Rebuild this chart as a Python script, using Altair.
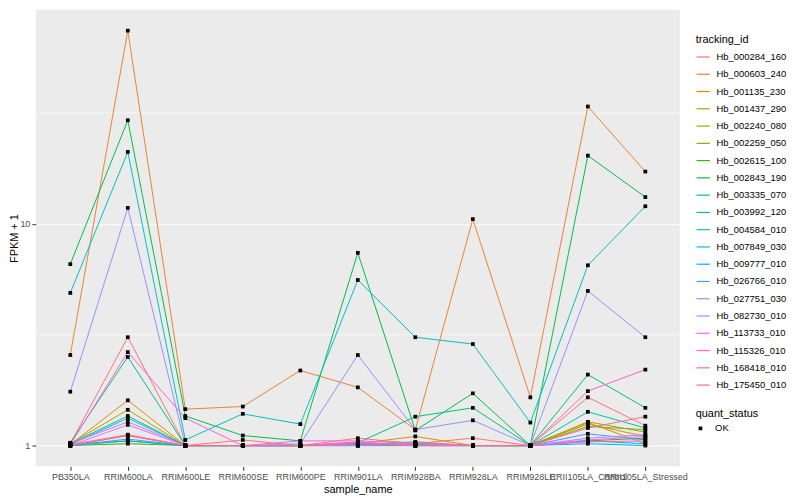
import altair as alt
import pandas as pd

samples = ["PB350LA", "RRIM600LA", "RRIM600LE", "RRIM600SE", "RRIM600PE", "RRIM901LA",
           "RRIM928BA", "RRIM928LA", "RRIM928LE", "RRII105LA_Control", "RRII105LA_Stressed"]

tracking_ids = ["Hb_000284_160", "Hb_000603_240", "Hb_001135_230", "Hb_001437_290", "Hb_002240_080",
                "Hb_002259_050", "Hb_002615_100", "Hb_002843_190", "Hb_003335_070", "Hb_003992_120",
                "Hb_004584_010", "Hb_007849_030", "Hb_009777_010", "Hb_026766_010", "Hb_027751_030",
                "Hb_082730_010", "Hb_113733_010", "Hb_115326_010", "Hb_168418_010", "Hb_175450_010"]

hue_colors = ["#F8766D", "#EA8331", "#D89000", "#C09B00", "#A3A500", "#7CAE00", "#39B600", "#00BB4E",
              "#00BF7D", "#00C1A3", "#00BFC4", "#00BAE0", "#00B0F6", "#35A2FF", "#9590FF", "#C77CFF",
              "#E76BF3", "#FA62DB", "#FF62BC", "#FF6C91"]

# FPKM + 1 per sample (same order as `samples`)
hb_000284_160 = [1.02, 3.08, 1.00, 1.06, 1.00, 1.08, 1.02, 1.08, 1.00, 1.65, 1.23]
hb_000603_240 = [2.56, 74.3, 1.46, 1.50, 2.18, 1.83, 1.18, 10.5, 1.65, 33.8, 17.2]
hb_001135_230 = [1.01, 1.60, 1.00, 1.00, 1.00, 1.02, 1.10, 1.00, 1.00, 1.27, 1.02]
hb_001437_290 = [1.02, 1.45, 1.00, 1.00, 1.00, 1.01, 1.04, 1.00, 1.00, 1.25, 1.10]
hb_002240_080 = [1.00, 1.11, 1.00, 1.00, 1.00, 1.00, 1.02, 1.00, 1.00, 1.28, 1.15]
hb_002259_050 = [1.01, 1.05, 1.00, 1.00, 1.00, 1.02, 1.01, 1.00, 1.00, 1.22, 1.18]
hb_002615_100 = [1.00, 1.02, 1.00, 1.00, 1.00, 1.00, 1.00, 1.00, 1.00, 1.05, 1.08]
hb_002843_190 = [6.58, 29.3, 1.36, 1.11, 1.05, 7.40, 1.17, 1.72, 1.00, 20.3, 13.2]
hb_003335_070 = [1.03, 2.51, 1.00, 1.00, 1.00, 1.03, 1.35, 1.48, 1.00, 2.09, 1.48]
hb_003992_120 = [1.02, 1.36, 1.00, 1.00, 1.00, 1.02, 1.03, 1.00, 1.00, 1.42, 1.20]
hb_004584_010 = [4.88, 21.1, 1.06, 1.39, 1.25, 5.58, 3.08, 2.87, 1.27, 6.50, 12.0]
hb_007849_030 = [1.01, 1.33, 1.00, 1.00, 1.00, 1.01, 1.01, 1.00, 1.00, 1.05, 1.02]
hb_009777_010 = [1.00, 1.05, 1.00, 1.00, 1.00, 1.00, 1.00, 1.00, 1.00, 1.02, 1.00]
hb_026766_010 = [1.00, 1.07, 1.00, 1.00, 1.00, 1.01, 1.00, 1.00, 1.00, 1.13, 1.06]
hb_027751_030 = [1.75, 11.8, 1.00, 1.00, 1.02, 2.56, 1.18, 1.30, 1.00, 4.98, 3.08]
hb_082730_010 = [1.00, 1.24, 1.00, 1.00, 1.00, 1.00, 1.02, 1.00, 1.00, 1.08, 1.12]
hb_113733_010 = [1.02, 1.28, 1.00, 1.00, 1.05, 1.05, 1.03, 1.00, 1.00, 1.06, 1.10]
hb_115326_010 = [1.01, 2.64, 1.33, 1.00, 1.00, 1.02, 1.00, 1.00, 1.00, 1.04, 1.05]
hb_168418_010 = [1.00, 1.11, 1.00, 1.00, 1.00, 1.03, 1.00, 1.00, 1.00, 1.76, 2.20]
hb_175450_010 = [1.01, 1.12, 1.00, 1.00, 1.00, 1.04, 1.00, 1.00, 1.00, 1.20, 1.35]

series = [hb_000284_160, hb_000603_240, hb_001135_230, hb_001437_290, hb_002240_080,
          hb_002259_050, hb_002615_100, hb_002843_190, hb_003335_070, hb_003992_120,
          hb_004584_010, hb_007849_030, hb_009777_010, hb_026766_010, hb_027751_030,
          hb_082730_010, hb_113733_010, hb_115326_010, hb_168418_010, hb_175450_010]

minor_breaks = [3.1623, 31.623]

rows = []
for tid, vals in zip(tracking_ids, series):
    for s, v in zip(samples, vals):
        rows.append({"tracking_id": tid, "sample_name": s, "fpkm": v, "quant_status": "OK"})
df = pd.DataFrame(rows)

x_enc = alt.X("sample_name:N", sort=samples,
              scale=alt.Scale(type="point", padding=0.6),
              axis=alt.Axis(title="sample_name", labelAngle=0, labelOverlap=False, labelLimit=300,
                            labelPadding=2, titlePadding=2))
y_scale = alt.Scale(type="log", domain=[0.806, 92.2], nice=False)
y_axis = alt.Axis(title="FPKM + 1", values=[1, 10], format="~g", labelPadding=2, titlePadding=0)
y_enc = alt.Y("fpkm:Q", scale=y_scale, axis=y_axis)

minor = alt.Chart(pd.DataFrame({"fpkm": minor_breaks})).mark_rule(
    color="white", strokeWidth=0.55
).encode(y=alt.Y("fpkm:Q", scale=y_scale, axis=y_axis))

lines = alt.Chart(df).mark_line(strokeWidth=1).encode(
    x=x_enc, y=y_enc,
    color=alt.Color("tracking_id:N", scale=alt.Scale(domain=tracking_ids, range=hue_colors),
                    legend=alt.Legend(title="tracking_id", orient="none", legendX=665, legendY=24,
                                      symbolType="stroke", symbolStrokeWidth=1.2, symbolSize=180,
                                      labelFontSize=9.5, titleFontSize=11, rowPadding=5.4,
                                      titlePadding=5, labelOffset=6)),
    detail="tracking_id:N",
)

points = alt.Chart(df).mark_point(filled=True, size=14, opacity=1, color="black").encode(
    x=x_enc, y=y_enc,
    shape=alt.Shape("quant_status:N", scale=alt.Scale(domain=["OK"], range=["square"]),
                    legend=alt.Legend(title="quant_status", orient="none", legendX=665, legendY=401,
                                      symbolFillColor="black", symbolStrokeColor="black", symbolSize=14,
                                      labelFontSize=9.5, titleFontSize=11, titlePadding=5,
                                      labelOffset=10)),
)

chart = alt.layer(minor, lines, points).properties(
    width=649, height=460,
    padding={"left": 0, "top": 0, "right": 5, "bottom": 0},
).configure(
    font="Liberation Sans"
).configure_view(
    fill="#EBEBEB", stroke=None
).configure_axis(
    domain=False, tickColor="#333333", tickSize=4, tickWidth=1,
    labelColor="#4D4D4D", labelFontSize=9, labelFont="Liberation Sans",
    titleFont="Liberation Sans", titleFontSize=11, titleFontWeight="normal", titleColor="black",
    gridColor="white", gridWidth=1.1,
).configure_legend(
    labelFont="Liberation Sans", titleFont="Liberation Sans", titleFontWeight="normal",
    labelColor="black", titleColor="black",
)

chart.save("out.html", embed_options={"renderer": "svg", "actions": False})
